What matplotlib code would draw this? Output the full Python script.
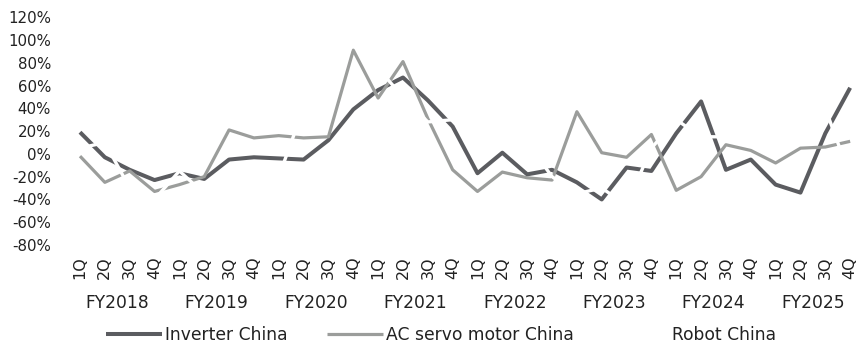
import matplotlib
matplotlib.use("Agg")
import matplotlib.pyplot as plt
from matplotlib.ticker import FuncFormatter

plt.rcParams["font.family"] = ["DejaVu Sans"]

fiscal_years = ["FY2018", "FY2019", "FY2020", "FY2021", "FY2022", "FY2023", "FY2024", "FY2025"]
quarters = ["1Q", "2Q", "3Q", "4Q"]

# YoY growth, % (FY2018 1Q .. FY2025 4Q)
inverter_china = [19, -3, -14, -23, -17, -22, -5, -3,
                  -4, -5, 12, 39, 56, 67, 47, 24,
                  -17, 1, -18, -14, -25, -40, -12, -15,
                  18, 46, -14, -5, -27, -34, 18, 58]
ac_servo_china = [-2, -25, -15, -33, -27, -20, 21, 14,
                  16, 14, 15, 91, 49, 81, 31, -14,
                  -33, -16, -21, -23, 37, 1, -3, 17,
                  -32, -20, 8, 3, -8, 5, 6, 11]
robot_china = [5, 10, -30, -40, -15, -35, -30, -25,
               -20, 40, 40, 100, 75, 50, 28, 30,
               25, 15, 10, -20, -35, -30, -45, 5,
               30, 15, 15, 10, 0, 15, 40, -20]

x_labels = [q for _ in fiscal_years for q in quarters]
x = list(range(len(x_labels)))

fig = plt.figure(figsize=(8.61, 3.5), dpi=100)
ax = fig.add_axes([0.0785, 0.30, 0.919, 0.651])

ax.plot(x, inverter_china, color="#5b5c60", lw=2.9, label="Inverter China", solid_capstyle="butt")
ax.plot(x, ac_servo_china, color="#9b9d9b", lw=2.3, label="AC servo motor China", solid_capstyle="butt")
# robot series is drawn in white on top of the others
ax.plot(x, robot_china, color="white", lw=2.4, label="Robot China", solid_capstyle="butt")

ax.set_xlim(-0.5, 31.35)
ax.set_ylim(-80, 120)
ax.set_yticks(range(-80, 121, 20))
ax.yaxis.set_major_formatter(FuncFormatter(lambda v, _: f"{v:.0f}%"))
ax.set_xticks(x)
ax.set_xticklabels(x_labels, rotation=90)
ax.tick_params(axis="y", length=0, pad=12, labelsize=10.8, colors="#222222")
ax.tick_params(axis="x", length=0, pad=8, labelsize=11.5, colors="#222222")
for s in ax.spines.values():
    s.set_visible(False)

# fiscal year captions under each block of four quarters
for i, fy in enumerate(fiscal_years):
    ax.text(i * 4 + 1.5, -0.255, fy, transform=ax.get_xaxis_transform(),
            ha="center", va="center", fontsize=12.3, color="#222222")

fig.legend(loc="center", bbox_to_anchor=(0.512, 0.043), ncol=3, frameon=False,
           fontsize=12.3, handlelength=3.3, handletextpad=0.15, columnspacing=2.3,
           labelcolor="#222222")

fig.savefig("out.png", dpi=100, facecolor="white")
